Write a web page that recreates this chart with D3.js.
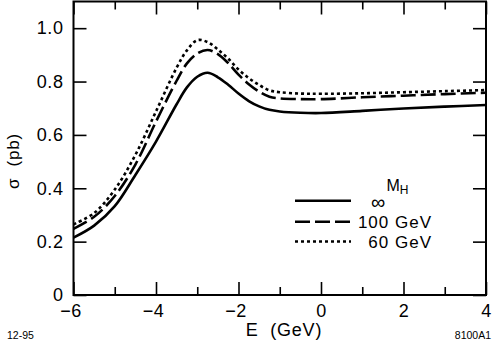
<!DOCTYPE html>
<html>
<head>
<meta charset="utf-8">
<script src="https://cdn.jsdelivr.net/npm/d3@7"></script>
<style>
  body { margin: 0; background: #fff; }
  text { font-family: "Liberation Sans", Arial, sans-serif; fill: #000; }
</style>
</head>
<body>
<div id="chart"></div>
<script>
// energy grid (GeV) and cross sections (pb) for each Higgs mass
const energy = [-6, -5.5, -5, -4.5, -4, -3.5, -3.25, -3, -2.75, -2.5, -2.25, -2, -1.75, -1.5, -1.25, -1, -0.5, 0, 1, 2, 3, 4];
const sigmaInf = [0.215, 0.26, 0.333, 0.45, 0.575, 0.715, 0.778, 0.818, 0.833, 0.816, 0.788, 0.755, 0.727, 0.707, 0.694, 0.688, 0.683, 0.682, 0.690, 0.699, 0.706, 0.712];
const sigma100 = [0.248, 0.293, 0.371, 0.489, 0.65, 0.803, 0.868, 0.905, 0.918, 0.903, 0.869, 0.826, 0.79, 0.762, 0.743, 0.737, 0.734, 0.734, 0.741, 0.747, 0.753, 0.758];
const sigma60 = [0.265, 0.307, 0.395, 0.525, 0.688, 0.852, 0.917, 0.955, 0.948, 0.92, 0.886, 0.845, 0.813, 0.787, 0.767, 0.76, 0.755, 0.754, 0.756, 0.760, 0.764, 0.768];

const legendLabels = ['∞', '100 GeV', '60 GeV'];
const xMajor = [-6, -4, -2, 0, 2, 4];
const xMinor = [-5, -3, -1, 1, 3];
const yMajor = [0, 0.2, 0.4, 0.6, 0.8, 1.0];

const series = [
        { values: sigmaInf, dash: null },
        { values: sigma100, dash: '15,5' },
        { values: sigma60, dash: '3,3' }
];

const width = 492, height = 346;
const plotLeft = 73.5, plotRight = 486, plotTop = 1.5, plotBottom = 295;

const svg = d3.select('#chart').append('svg')
        .attr('width', width)
        .attr('height', height);

const x = d3.scaleLinear().domain([-6, 4]).range([plotLeft, plotRight]);
const y = d3.scaleLinear().domain([0, 1.1]).range([plotBottom, plotTop]);

const fmtX = d => d < 0 ? '\u2212' + Math.abs(d) : String(d);
const fmtY = d => d === 0 ? '0' : d.toFixed(1);

// bottom axis with labels, inward ticks
const gBottom = svg.append('g').attr('transform', `translate(0,${plotBottom})`)
        .call(d3.axisBottom(x).tickValues(xMajor).tickSize(-13).tickPadding(9).tickFormat(fmtX));
gBottom.append('g')
        .call(d3.axisBottom(x).tickValues(xMinor).tickSize(-8).tickFormat(''));
gBottom.selectAll('text').attr('dx', d => d < 0 ? -3 : 0);

const gTop = svg.append('g').attr('transform', `translate(0,${plotTop})`)
        .call(d3.axisTop(x).tickValues(xMajor).tickSize(-13).tickFormat(''));
gTop.append('g')
        .call(d3.axisTop(x).tickValues(xMinor).tickSize(-8).tickFormat(''));

svg.append('g').attr('transform', `translate(${plotLeft},0)`)
        .call(d3.axisLeft(y).tickValues(yMajor).tickSize(-13).tickPadding(10).tickFormat(fmtY));

svg.append('g').attr('transform', `translate(${plotRight},0)`)
        .call(d3.axisRight(y).tickValues(yMajor).tickSize(-13).tickFormat(''));

svg.selectAll('.domain').remove();
svg.selectAll('.tick line').attr('stroke', '#000').attr('stroke-width', 1.6);
svg.selectAll('.tick text')
        .style('font-family', '"Liberation Sans", Arial, sans-serif')
        .style('font-size', '18px')
        .style('letter-spacing', '0.6px')
        .attr('fill', '#000');

svg.append('rect')
        .attr('x', plotLeft).attr('y', plotTop)
        .attr('width', plotRight - plotLeft).attr('height', plotBottom - plotTop)
        .attr('fill', 'none')
        .attr('stroke', '#000')
        .attr('stroke-width', 2);

// curves
const line = d3.line()
        .x((d, i) => x(energy[i]))
        .y(d => y(d))
        .curve(d3.curveCatmullRom.alpha(0.5));

series.forEach(s => {
        svg.append('path')
                .attr('d', line(s.values))
                .attr('fill', 'none')
                .attr('stroke', '#000')
                .attr('stroke-width', 2.6)
                .attr('stroke-dasharray', s.dash);
});

// legend
const legend = svg.append('g');
legend.append('text')
        .attr('x', 386.5).attr('y', 191)
        .style('font-size', '16px')
        .text('M')
        .append('tspan')
        .attr('dy', 3)
        .style('font-size', '12px')
        .text('H');

const legendY = [200.7, 221.7, 241.5];
series.forEach((s, i) => {
        legend.append('line')
                .attr('x1', 295).attr('x2', 351)
                .attr('y1', legendY[i]).attr('y2', legendY[i])
                .attr('stroke', '#000')
                .attr('stroke-width', 2.6)
                .attr('stroke-dasharray', s.dash);
        legend.append('text')
                .attr('x', i === 0 ? 371 : 432)
                .attr('y', i === 0 ? legendY[i] + 8 : legendY[i] + 6.5)
                .attr('text-anchor', i === 0 ? 'start' : 'end')
                .style('font-size', i === 0 ? '20px' : '17px')
                .style('letter-spacing', i === 0 ? '0px' : '1px')
                .text(legendLabels[i]);
});

// axis titles
svg.append('text')
        .attr('x', 284).attr('y', 336)
        .attr('text-anchor', 'middle')
        .style('font-size', '18px')
        .style('letter-spacing', '0.8px')
        .style('white-space', 'pre')
        .text('E  (GeV)');

svg.append('text')
        .attr('transform', 'translate(19,161) rotate(-90)')
        .attr('text-anchor', 'middle')
        .style('font-size', '17px')
        .style('letter-spacing', '0.8px')
        .style('white-space', 'pre')
        .text('σ  (pb)');

svg.append('text')
        .attr('x', 7).attr('y', 339)
        .style('font-size', '10.5px')
        .text('12-95');

svg.append('text')
        .attr('x', 491).attr('y', 339)
        .attr('text-anchor', 'end')
        .style('font-size', '10.5px')
        .text('8100A1');
</script>
</body>
</html>
